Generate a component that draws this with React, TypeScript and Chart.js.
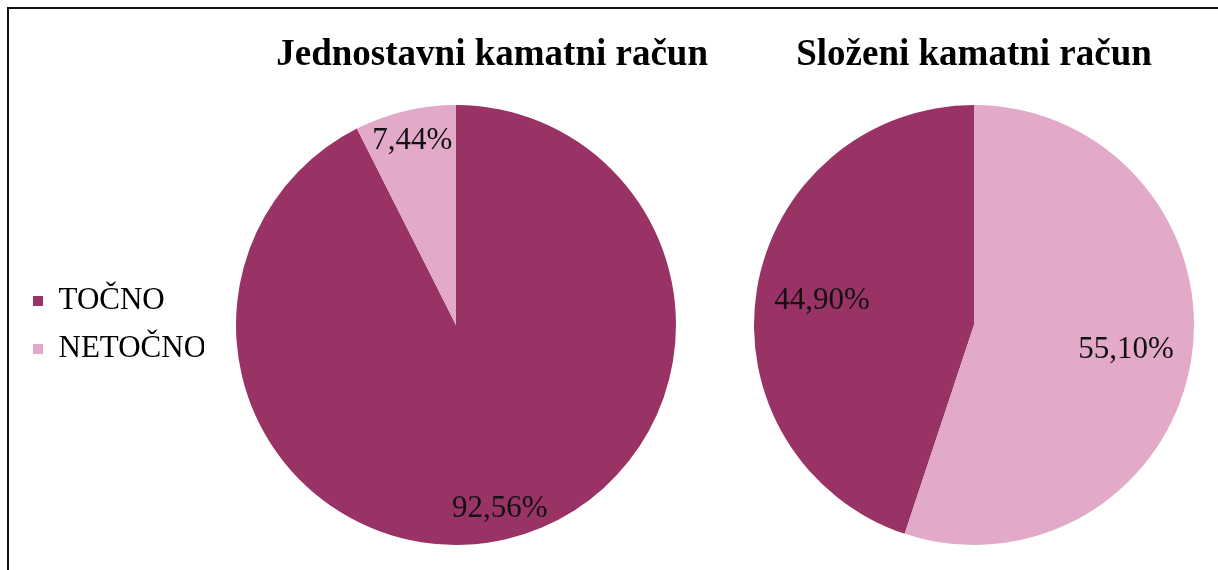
import React, { useEffect, useRef } from "react";
import { Chart, registerables } from "chart.js";

Chart.register(...registerables);

const categories = ["TOČNO", "NETOČNO"];
const simpleValues = [92.56, 7.44];
const compoundValues = [44.9, 55.1];
const chartTitles = ["Jednostavni kamatni račun", "Složeni kamatni račun"];
const sliceColors = ["#993366", "#E2A9C8"];

const FONT = '"Liberation Serif", "Times New Roman", serif';

const fmt = (v: number) => v.toFixed(2).replace(".", ",") + "%";

const sliceLabelPlugin = {
  id: "sliceLabels",
  afterDatasetsDraw(chart: any, _args: any, opts: any) {
    const ctx = chart.ctx;
    const meta = chart.getDatasetMeta(0);
    const data = chart.data.datasets[0].data as number[];
    ctx.save();
    ctx.font = `31px ${FONT}`;
    ctx.fillStyle = "#111";
    ctx.textAlign = "center";
    ctx.textBaseline = "middle";
    meta.data.forEach((arc: any, i: number) => {
      const p = arc.getProps(["x", "y", "startAngle", "endAngle", "outerRadius"], true);
      const mid = (p.startAngle + p.endAngle) / 2;
      const r = p.outerRadius * (opts.radiusFraction ?? 0.7);
      ctx.fillText(fmt(data[i]), p.x + Math.cos(mid) * r, p.y + Math.sin(mid) * r);
    });
    ctx.restore();
  },
};

type PieProps = {
  values: number[];
  title: string;
  titleAlign: "start" | "center" | "end";
  showLegend: boolean;
  left: number;
  width: number;
  padLeft: number;
  padRight: number;
  radiusFraction: number;
  rotation: number;
};

function PieChart(props: PieProps) {
  const ref = useRef<HTMLCanvasElement | null>(null);
  useEffect(() => {
    if (!ref.current) return;
    const chart = new Chart(ref.current, {
      type: "pie",
      data: {
        labels: categories,
        datasets: [
          {
            data: props.values,
            backgroundColor: sliceColors,
            borderWidth: 0,
          },
        ],
      },
      options: {
        animation: false,
        responsive: false,
        rotation: props.rotation,
        layout: {
          padding: { left: props.padLeft, right: props.padRight, top: 0, bottom: 25 },
        },
        plugins: {
          title: {
            display: true,
            text: props.title,
            align: props.titleAlign,
            color: "#000",
            font: { family: FONT, size: 37, weight: "bold" },
            padding: { top: 25, bottom: 27.6 },
          },
          legend: {
            display: props.showLegend,
            position: "left",
            fullSize: false,
            maxWidth: 188,
            labels: {
              color: "#000",
              boxWidth: 10,
              boxHeight: 10,
              padding: 17,
              font: { family: FONT, size: 31 },
            },
          },
          tooltip: { enabled: false },
          sliceLabels: { radiusFraction: props.radiusFraction },
        } as any,
      },
      plugins: [sliceLabelPlugin],
    });
    return () => chart.destroy();
  }, []);
  return (
    <canvas
      ref={ref}
      width={props.width}
      height={562}
      style={{ position: "absolute", left: props.left, top: 8, width: props.width, height: 562 }}
    />
  );
}

export default function App() {
  const compoundTotal = compoundValues.reduce((a, b) => a + b, 0);
  const compoundRotation = (compoundValues[1] / compoundTotal) * 360;
  return (
    <div
      style={{
        position: "fixed",
        left: 0,
        top: 0,
        width: 1218,
        height: 570,
        background: "#fff",
        overflow: "hidden",
      }}
    >
      <div
        style={{
          position: "absolute",
          left: 7,
          top: 7,
          width: 1230,
          height: 600,
          borderTop: "2px solid #111",
          borderLeft: "2px solid #111",
        }}
      />
      <PieChart
        values={simpleValues}
        title={chartTitles[0]}
        titleAlign="end"
        showLegend={true}
        left={0}
        width={760}
        padLeft={16}
        padRight={52}
        radiusFraction={0.86}
        rotation={0}
      />
      <PieChart
        values={compoundValues}
        title={chartTitles[1]}
        titleAlign="center"
        showLegend={false}
        left={734}
        width={480}
        padLeft={20}
        padRight={20}
        radiusFraction={0.7}
        rotation={compoundRotation}
      />
    </div>
  );
}
